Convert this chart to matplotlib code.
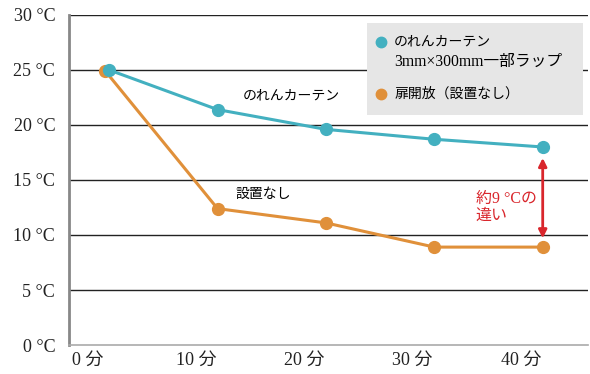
import matplotlib.pyplot as plt
from matplotlib.patches import Rectangle
from matplotlib.lines import Line2D

# data
minutes = [0, 10, 20, 30, 40]
noren_temp = [25.0, 21.4, 19.6, 18.7, 18.0]
open_temp = [24.9, 12.4, 11.1, 8.9, 8.9]
x_labels = ["0 分", "10 分", "20 分", "30 分", "40 分"]
y_ticks = [0, 5, 10, 15, 20, 25, 30]
y_labels = ["0 °C", "5 °C", "10 °C", "15 °C", "20 °C", "25 °C", "30 °C"]

TEAL = "#43b0c0"
ORANGE = "#e0903a"
RED = "#d9262c"
SERIF = ["Liberation Serif", "Noto Sans CJK JP"]
SANS = ["Noto Sans CJK JP", "DejaVu Sans"]

fig = plt.figure(figsize=(5.9, 3.74), dpi=100)
ax = fig.add_axes([0.117, 0.0775, 0.88, 0.8825])

ax.set_xlim(-3.7, 44.2)
ax.set_ylim(0, 30)

for y in y_ticks[1:]:
    ax.axhline(y, color="#222222", lw=1.0, zorder=1)

ax.plot(minutes, noren_temp, color=TEAL, lw=2.2, marker="o", ms=8.5, zorder=4)
ax.plot([m - 0.35 if i == 0 else m for i, m in enumerate(minutes)], open_temp,
        color=ORANGE, lw=2.2, marker="o", ms=8.5, zorder=3)

# difference arrow at 40 min
ax.annotate("", xy=(minutes[-1], open_temp[-1] + 0.8), xytext=(minutes[-1], noren_temp[-1] - 1.0),
            arrowprops=dict(arrowstyle="<|-|>", color=RED, lw=2.0, mutation_scale=12,
                            shrinkA=0, shrinkB=0), zorder=5)
ax.text(33.8, 12.5, "約9 °Cの\n違い", color=RED, fontsize=11.5, family=SERIF,
        va="center", ha="left", linespacing=1.05)

ax.text(12.3, 22.7, "のれんカーテン", fontsize=10, family=SANS, va="center", ha="left")
ax.text(11.7, 13.7, "設置なし", fontsize=10, family=SANS, va="center", ha="left")

ax.set_yticks(y_ticks)
ax.set_yticklabels(y_labels, family=SERIF, fontsize=13, color="#222222")
ax.set_xticks([m - 2.0 for m in minutes])
ax.set_xticklabels(x_labels, family=SERIF, fontsize=13, color="#222222")
ax.tick_params(length=0, pad=5)
ax.tick_params(axis="y", pad=10)

for s in ["top", "right"]:
    ax.spines[s].set_visible(False)
ax.spines["left"].set_color("#888888")
ax.spines["left"].set_linewidth(2.0)
ax.spines["bottom"].set_color("#aaaaaa")
ax.spines["bottom"].set_linewidth(1.2)

# legend box drawn by hand to match the reference layout
fig.add_artist(Rectangle((0.622, 0.693), 0.366, 0.245, transform=fig.transFigure,
                         facecolor="#e6e6e6", edgecolor="none", zorder=6))
fig.add_artist(Line2D([0.646], [0.887], transform=fig.transFigure, marker="o",
                      ms=7.5, color=TEAL, zorder=7))
fig.add_artist(Line2D([0.646], [0.748], transform=fig.transFigure, marker="o",
                      ms=7.5, color=ORANGE, zorder=7))
fig.text(0.668, 0.887, "のれんカーテン", fontsize=10, family=SERIF, va="center", zorder=7)
fig.text(0.668, 0.834, "3mm×300mm一部ラップ", fontsize=11.3, family=SERIF, va="center", zorder=7)
fig.text(0.668, 0.748, "扉開放（設置なし）", fontsize=10, family=SERIF, va="center", zorder=7)

fig.savefig("out.png", dpi=100)
